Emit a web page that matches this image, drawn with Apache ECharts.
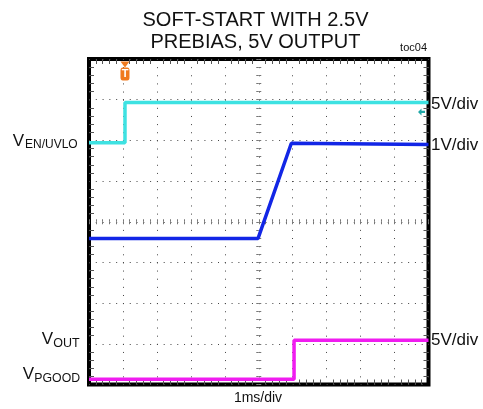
<!DOCTYPE html>
<html>
<head>
<meta charset="utf-8">
<script src="https://cdn.jsdelivr.net/npm/echarts@6/dist/echarts.min.js"></script>
<style>
html,body{margin:0;padding:0;background:#fff;}
#chart{width:483px;height:409px;}
</style>
</head>
<body>
<div id="chart"></div>
<script>
// Screen divisions: time in ms relative to screen centre (1 ms/div), amplitude in divisions relative to centre
const xDivs = [-5, 5];
const yDivs = [-4, 4];

// V_EN/UVLO trace (cyan, 5V/div) : [time ms, division]
const enTime = [-5, -3.94, -3.94, 5];
const enDiv  = [1.94, 1.94, 2.93, 2.93];

// V_OUT trace (blue, 1V/div)
const outTime = [-5, -0.02, 0.96, 5];
const outDiv  = [-0.41, -0.41, 1.93, 1.90];

// V_PGOOD trace (magenta, 5V/div)
const pgTime = [-5, 1.04, 1.04, 5];
const pgDiv  = [-3.87, -3.87, -2.91, -2.91];

// trigger
const triggerTime = -3.94;
const triggerLevel = 2.70;

const titleLines = ['SOFT-START WITH 2.5V', 'PREBIAS, 5V OUTPUT'];
const rightLabels = ['5V/div', '1V/div', '5V/div'];
const timeLabel = '1ms/div';

const GL = 89, GT = 59, GW = 339.5, GH = 325.5;
const dotX = GW / 50, dotY = GH / 40;

function zip(a, b) { return a.map((v, i) => [v, b[i]]); }

const chart = echarts.init(document.getElementById('chart'), null, {renderer: 'canvas'});

const baseX = {
  type: 'value', min: xDivs[0], max: xDivs[1], interval: 1,
  axisLabel: {show: false}, splitLine: {show: false},
  axisLine: {show: false, onZero: false}
};
const baseY = {
  type: 'value', min: yDivs[0], max: yDivs[1], interval: 1,
  axisLabel: {show: false}, splitLine: {show: false},
  axisLine: {show: false, onZero: false}
};
const edgeTick = {show: false, inside: true};
const edgeMinor = {show: true, splitNumber: 5, length: 5, lineStyle: {color: '#555', width: 1}};
const midTick = {show: true, inside: false, length: 2.5, lineStyle: {color: '#777', width: 1}};
const midMinor = {show: true, splitNumber: 5, length: 2.5, lineStyle: {color: '#777', width: 1}};
const FONT = '"Liberation Sans", Arial, sans-serif';
function txt(text, x, y, size, align) {
  return {type: 'text', style: {text: text, x: x, y: y, align: align, verticalAlign: 'middle', font: size + 'px ' + FONT, fill: '#111'}};
}

const option = {
  animation: false,
  backgroundColor: '#fff',
  grid: {left: GL, top: GT, width: GW, height: GH, show: true, borderColor: '#000', borderWidth: 4, backgroundColor: 'transparent'},
  xAxis: [
    Object.assign({}, baseX, {position: 'bottom', axisTick: edgeTick, minorTick: edgeMinor,
      splitLine: {show: true, lineStyle: {color: '#444', width: 1, type: [1, dotY - 1]}}}),
    Object.assign({}, baseX, {position: 'top', axisTick: edgeTick, minorTick: edgeMinor}),
    Object.assign({}, baseX, {position: 'bottom', offset: -GH / 2, axisTick: midTick, minorTick: midMinor}),
    Object.assign({}, baseX, {position: 'top', offset: -GH / 2, axisTick: midTick, minorTick: midMinor})
  ],
  yAxis: [
    Object.assign({}, baseY, {position: 'left', axisTick: edgeTick, minorTick: edgeMinor,
      splitLine: {show: true, lineStyle: {color: '#444', width: 1, type: [1, dotX - 1]}}}),
    Object.assign({}, baseY, {position: 'right', axisTick: edgeTick, minorTick: edgeMinor}),
    Object.assign({}, baseY, {position: 'left', offset: -GW / 2, axisTick: midTick, minorTick: midMinor}),
    Object.assign({}, baseY, {position: 'right', offset: -GW / 2, axisTick: midTick, minorTick: midMinor})
  ],
  series: [
    {
      type: 'line', name: 'VEN/UVLO', data: zip(enTime, enDiv), showSymbol: false,
      lineStyle: {color: '#3ee2e2', width: 3.5}, z: 3,
      markPoint: {
        silent: true,
        data: [
          {coord: [triggerTime, yDivs[1]], symbol: 'triangle', symbolRotate: 180, symbolSize: [9, 6], symbolOffset: [0, 5.5],
            itemStyle: {color: '#f07a1e'}, label: {show: false}},
          {coord: [triggerTime, yDivs[1]], symbol: 'roundRect', symbolSize: [9, 13], symbolOffset: [0, 15],
            itemStyle: {color: '#f07a1e'},
            label: {show: true, position: 'inside', formatter: 'T', color: '#fff', fontSize: 11, fontWeight: 'bold', fontFamily: 'Liberation Sans'}},
          {coord: [xDivs[1], triggerLevel], symbol: 'path://M0,5 L5,0 L5,3.5 L10,3.5 L10,6.5 L5,6.5 L5,10 Z', symbolSize: [7, 7], symbolOffset: [-7, 0],
            itemStyle: {color: '#20a8a8'}, label: {show: false}}
        ]
      }
    },
    {
      type: 'line', name: 'VOUT', data: zip(outTime, outDiv), showSymbol: false,
      lineStyle: {color: '#1226e6', width: 3.5}, z: 3
    },
    {
      type: 'line', name: 'VPGOOD', data: zip(pgTime, pgDiv), showSymbol: false,
      lineStyle: {color: '#f01cf0', width: 3.5}, z: 3
    }
  ],
  graphic: [
    txt(titleLines[0], 255.5, 20.5, 20, 'center'),
    txt(titleLines[1], 255.5, 42.1, 20, 'center'),
    txt('toc04', 427, 47.6, 11, 'right'),
    txt(rightLabels[0], 431, 104.6, 17, 'left'),
    txt(rightLabels[1], 431, 145, 17, 'left'),
    txt(rightLabels[2], 431, 340, 17, 'left'),
    txt('V', 12.7, 141.4, 17, 'left'),
    txt('EN/UVLO', 25, 145, 12, 'left'),
    txt('V', 41.7, 339.7, 17, 'left'),
    txt('OUT', 53.3, 344, 12.5, 'left'),
    txt('V', 22.7, 374.7, 17, 'left'),
    txt('PGOOD', 34.3, 379, 12.3, 'left'),
    txt(timeLabel, 258, 398, 14, 'center')
  ]
};
chart.setOption(option);
</script>
</body>
</html>
